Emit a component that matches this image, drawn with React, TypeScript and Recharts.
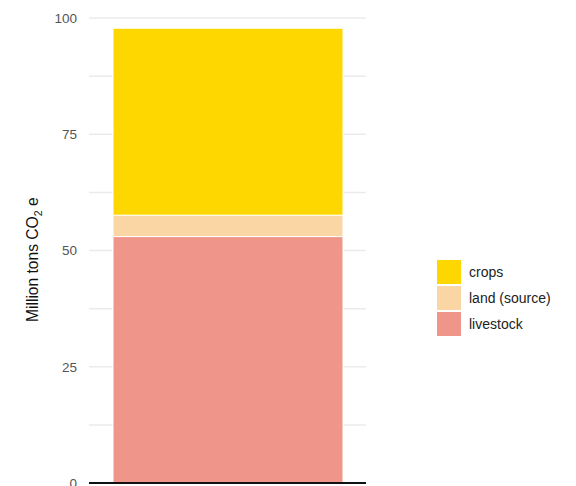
import { BarChart, Bar, XAxis, YAxis, CartesianGrid } from 'recharts';

const categories = ['Emissions'];
const livestock = [53.0];
const land = [4.6];
const crops = [40.2];
const yTicks = [0, 12.5, 25, 37.5, 50, 62.5, 75, 87.5, 100];

const series = [
  { key: 'crops', name: 'crops', color: '#ffd700' },
  { key: 'land', name: 'land (source)', color: '#fad6a5' },
  { key: 'livestock', name: 'livestock', color: '#f0958a' },
];

const data = categories.map((c, i) => ({
  category: c,
  livestock: livestock[i],
  land: land[i],
  crops: crops[i],
}));

const FONT = '"Liberation Sans", Arial, Helvetica, sans-serif';

function LegendBox() {
  return (
    <div style={{ position: 'absolute', left: 437, top: 259, fontFamily: FONT, fontSize: 14, color: '#222' }}>
      {series.map((s) => (
        <div key={s.key} style={{ display: 'flex', alignItems: 'center', height: 26 }}>
          <span style={{ width: 24, height: 24, background: s.color, display: 'inline-block', marginRight: 8 }} />
          <span>{s.name}</span>
        </div>
      ))}
    </div>
  );
}

function YLabel() {
  return (
    <text
      x={0}
      y={0}
      transform="translate(38, 322) rotate(-90)"
      fontSize={15.6}
      fill="#111"
      fontFamily={FONT}
      textAnchor="start"
    >
      Million tons CO
      <tspan fontSize={10.5} dy={4}>2</tspan>
      <tspan dy={-4}> e</tspan>
    </text>
  );
}

export default function App() {
  return (
    <div style={{ position: 'absolute', left: 0, top: 0, width: 576, height: 486, background: '#fff' }}>
      <BarChart
        width={576}
        height={486}
        data={data}
        margin={{ top: 18, right: 210, bottom: 2, left: 0 }}
        style={{ fontFamily: FONT }}
      >
        <CartesianGrid vertical={false} stroke="#ebebeb" strokeWidth={1.5} />
        <XAxis
          dataKey="category"
          tick={false}
          tickLine={false}
          height={1}
          axisLine={{ stroke: '#111', strokeWidth: 2 }}
        />
        <YAxis
          width={89}
          domain={[0, 100]}
          ticks={yTicks}
          interval={0}
          tickLine={false}
          axisLine={false}
          tickMargin={6}
          tick={{ fontSize: 13.5, fill: '#555', fontFamily: FONT }}
          tickFormatter={(v: number) => (v % 25 === 0 ? String(v) : '')}
          label={{ content: () => <YLabel /> }}
        />
        <Bar dataKey="livestock" name="livestock" stackId="a" fill="#f0958a" stroke="#fff" strokeWidth={1} barSize={230} isAnimationActive={false} />
        <Bar dataKey="land" name="land (source)" stackId="a" fill="#fad6a5" stroke="#fff" strokeWidth={1} barSize={230} isAnimationActive={false} />
        <Bar dataKey="crops" name="crops" stackId="a" fill="#ffd700" stroke="#fff" strokeWidth={1} barSize={230} isAnimationActive={false} />
      </BarChart>
      <LegendBox />
    </div>
  );
}
